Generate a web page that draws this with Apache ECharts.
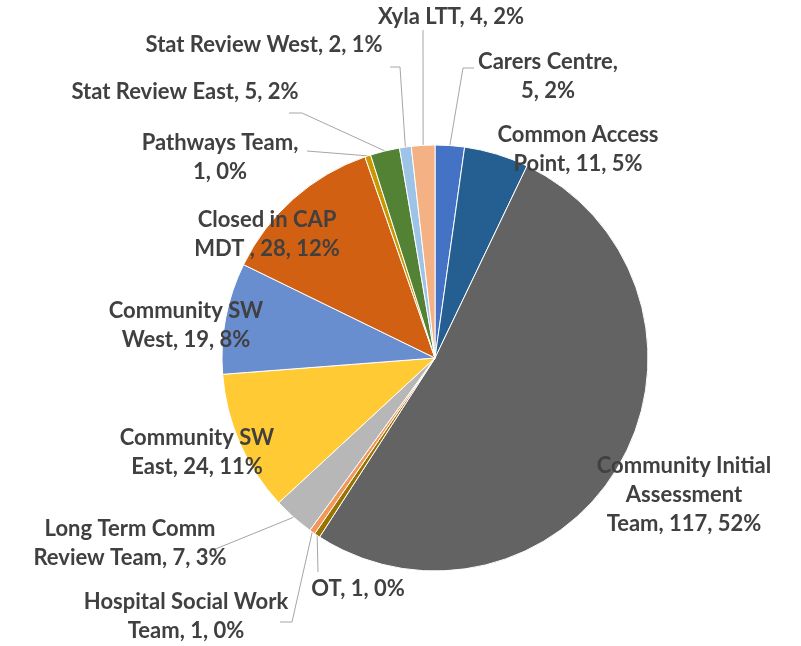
<!DOCTYPE html>
<html>
<head>
<meta charset="utf-8">
<script src="https://cdn.jsdelivr.net/npm/echarts@6/dist/echarts.min.js"></script>
<style>
  html, body { margin: 0; padding: 0; background: #fff; }
  #chart { width: 801px; height: 646px; }
</style>
</head>
<body>
<div id="chart"></div>
<script>
  // data, clockwise from 12 o'clock
  const categories = ['Carers Centre', 'Common Access Point', 'Community Initial Assessment Team', 'OT',
    'Hospital Social Work Team', 'Long Term Comm Review Team', 'Community SW East', 'Community SW West',
    'Closed in CAP MDT ', 'Pathways Team', 'Stat Review East', 'Stat Review West', 'Xyla LTT'];
  const counts = [5, 11, 117, 1, 1, 7, 24, 19, 28, 1, 5, 2, 4];
  const colors = ['#4472C4', '#255E91', '#636363', '#997300', '#F1975A', '#B7B7B7', '#FFCA33',
    '#698ED0', '#D26012', '#C99700', '#548235', '#9DC3E6', '#F4B183'];

  const total = counts.reduce((a, b) => a + b, 0);
  const cx = 435, cy = 358, R = 213;

  // where each label sits (text centre), words per line, and leader bends
  const labelSpots = [
    { x: 548, y: 76, lines: [2], guide: [[463, 68], [474, 68]] },
    { x: 578, y: 149, lines: [2] },
    { x: 684, y: 495, lines: [2, 1] },
    { x: 358, y: 589, lines: [], guide: [[318, 572]] },
    { x: 186, y: 616, lines: [3], guide: [[292, 622], [280, 622]] },
    { x: 130, y: 543, lines: [3], guide: [[213, 550]] },
    { x: 197, y: 452, lines: [2] },
    { x: 186, y: 325, lines: [2] },
    { x: 267, y: 234, lines: [3] },
    { x: 220, y: 157, lines: [2], guide: [[307, 151]] },
    { x: 185, y: 92, lines: [], guide: [[302, 113], [289, 113]] },
    { x: 264, y: 45, lines: [], guide: [[400, 67], [390, 67]] },
    { x: 451, y: 17, lines: [], guide: [[423, 30]] }
  ];

  function labelText(i) {
    const pct = Math.round(counts[i] / total * 100);
    const words = (categories[i] + ', ' + counts[i] + ', ' + pct + '%').split(' ');
    const out = [];
    let k = 0;
    labelSpots[i].lines.forEach(n => {
      out.push(words.slice(k, k + n).join(' '));
      k += n;
    });
    out.push(words.slice(k).join(' '));
    return out.join('\n');
  }

  // point on the rim at the middle of slice i
  function rimPoint(i) {
    let before = 0;
    for (let j = 0; j < i; j++) before += counts[j];
    const a = (before + counts[i] / 2) / total * Math.PI * 2;
    return [cx + R * Math.sin(a), cy - R * Math.cos(a)];
  }

  const data = categories.map((name, i) => ({
    name: name,
    value: counts[i],
    itemStyle: { color: colors[i] },
    labelLine: { show: !!labelSpots[i].guide }
  }));

  const chart = echarts.init(document.getElementById('chart'));
  chart.setOption({
    backgroundColor: '#fff',
    animation: false,
    series: [{
      type: 'pie',
      center: [cx, cy],
      radius: R,
      startAngle: 90,
      clockwise: true,
      avoidLabelOverlap: false,
      itemStyle: { borderColor: '#fff', borderWidth: 1 },
      label: {
        show: true,
        position: 'outside',
        formatter: p => labelText(p.dataIndex),
        fontFamily: 'Lato',
        fontWeight: 'bold',
        fontSize: 22,
        lineHeight: 29,
        color: '#404040',
        width: 400,
        overflow: 'none'
      },
      labelLine: {
        show: true,
        lineStyle: { color: '#A6A6A6', width: 1 }
      },
      labelLayout: p => {
        const s = labelSpots[p.dataIndex];
        const res = { x: s.x, y: s.y, align: 'center', verticalAlign: 'middle' };
        if (s.guide) res.labelLinePoints = [rimPoint(p.dataIndex)].concat(s.guide);
        return res;
      },
      data: data
    }]
  });
</script>
</body>
</html>
